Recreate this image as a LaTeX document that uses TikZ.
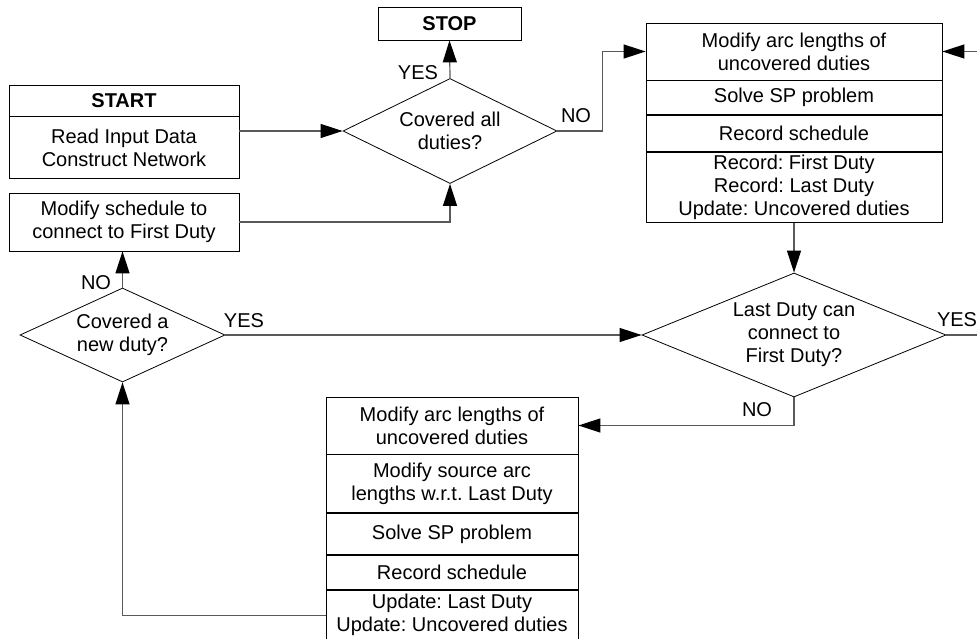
\documentclass[tikz,border=0pt]{standalone}
\usepackage{fontspec}
\setmainfont{Liberation Sans}
\usepackage{tikz}
\usetikzlibrary{shapes.geometric,arrows.meta,positioning,calc}
\frenchspacing

\begin{document}
\begin{tikzpicture}[x=1pt, y=-1pt, node distance=0pt,
    every node/.style={font=\fontsize{20}{23}\selectfont},
    box/.style={rectangle, draw, line width=0.8pt, align=center, inner sep=0pt},
    decision/.style={diamond, draw, line width=0.8pt, align=center, inner sep=0pt},
    flow/.style={draw=black!65, line width=1.2pt, -{Triangle[length=22pt, width=14pt, color=black]}},
    lbl/.style={inner sep=0pt}]
    \useasboundingbox (0,0) rectangle (977,639);
    \clip (0,0) rectangle (977,639);

    % Start and stop
    \node[box, minimum width=230, minimum height=31] (start) at (124,100.5) {\textbf{START}};
    \node[box, minimum width=230, minimum height=62, below=of start] (read) {Read Input Data\\Construct Network};
    \node[box, minimum width=143, minimum height=33] (stop) at (449.5,23.5) {\textbf{STOP}};

    % Decisions
    \node[decision, minimum width=214, minimum height=105, aspect=2.04] (allcov) at (450,131) {Covered all\\duties?};
    \node[decision, minimum width=304, minimum height=124, aspect=2.45] (canconn) at (794,335) {Last Duty can\\connect to\\First Duty?};
    \node[decision, minimum width=205, minimum height=94, aspect=2.18] (newcov) at (122.5,335) {Covered a\\new duty?};

    % Modify schedule
    \node[box, minimum width=230, minimum height=58] (modsched) at (124,222) {Modify schedule to\\connect to First Duty};

    % Upper right steps
    \node[box, minimum width=296, minimum height=57] (arcA) at (794,51.5) {Modify arc lengths of\\uncovered duties};
    \node[box, minimum width=296, minimum height=34, below=of arcA] (solveA) {Solve SP problem};
    \node[box, minimum width=296, minimum height=36, below=of solveA] (recA) {Record schedule};
    \node[box, minimum width=296, minimum height=70, below=of recA] (updA) {Record: First Duty\\Record: Last Duty\\Update: Uncovered duties};

    % Lower steps
    \node[box, minimum width=252, minimum height=57] (arcB) at (452,425.5) {Modify arc lengths of\\uncovered duties};
    \node[box, minimum width=252, minimum height=58, below=of arcB] (srcB) {Modify source arc\\lengths w.r.t. Last Duty};
    \node[box, minimum width=252, minimum height=41, below=of srcB] (solveB) {Solve SP problem};
    \node[box, minimum width=252, minimum height=34, below=of solveB] (recB) {Record schedule};
    \node[box, minimum width=252, minimum height=50, below=of recB] (updB) {Update: Last Duty\\Update: Uncovered duties};

    % Labels
    \node[lbl] (yesA) at (418,73) {YES};
    \node[lbl] (noA) at (576,116) {NO};
    \node[lbl] (noB) at (96,283) {NO};
    \node[lbl] (yesB) at (244,321) {YES};
    \node[lbl] (noC) at (757,410) {NO};
    \node[lbl] (yesC) at (957,320) {YES};

    % Connectors
    \draw[flow] (read.east |- allcov.west) -- (allcov.west);
    \draw[flow] (allcov.north) -- (stop.south);
    \draw[flow] (allcov.east) -- ++(45,0) |- (arcA.west);
    \draw[flow] (modsched.east) -| (allcov.south);
    \draw[flow] (updA.south) -- (canconn.north);
    \draw[flow] (canconn.east) -- ++(60,0) |- (arcA.east);
    \draw[flow] (canconn.south) |- (arcB.east);
    \draw[flow] (newcov.east) -- (canconn.west);
    \draw[flow] (newcov.north) -- (newcov.north |- modsched.south);
    \draw[flow] (updB.west) -| (newcov.south);
\end{tikzpicture}
\end{document}
